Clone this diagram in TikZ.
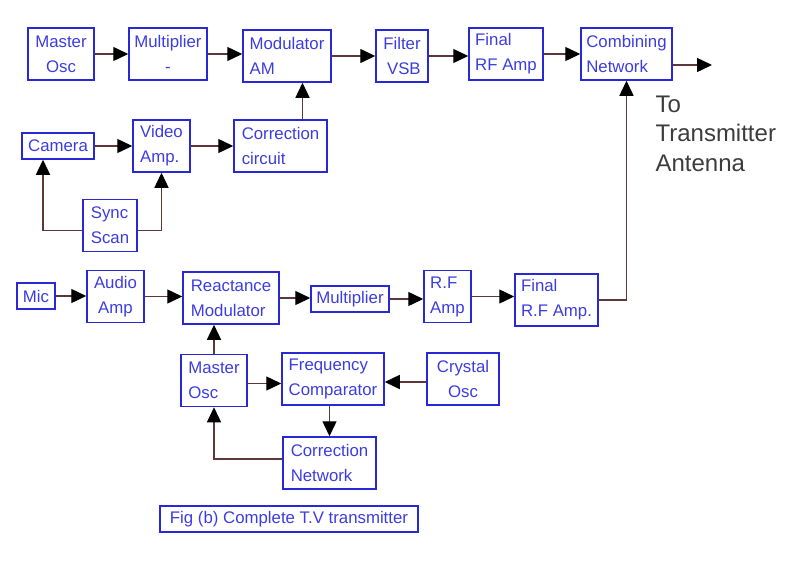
\documentclass[tikz,border=0pt]{standalone}
\usepackage{fontspec}
\setmainfont{Liberation Sans}
\usetikzlibrary{positioning,calc,arrows.meta}
\definecolor{cBox}{RGB}{40,40,215}
\definecolor{cTxt}{RGB}{60,60,225}
\definecolor{cLine}{RGB}{95,55,55}
\definecolor{cNote}{RGB}{60,60,60}

\begin{document}
\begin{tikzpicture}[
  x=1pt, y=-1pt,
  font=\fontsize{16.8}{25}\selectfont,
  blk/.style  = {draw=cBox, line width=1.5pt, text=cTxt, align=left,
                 inner sep=0pt, minimum height=52pt},
  thin/.style = {minimum height=26pt},
  flow/.style = {-{Triangle[length=15pt, width=14pt, color=black]},
                 draw=cLine, line width=1.4pt}
]
\useasboundingbox (0,0) rectangle (802,562);

% ------------------------------------------------------------ video chain --
\node[blk, minimum width=66pt, align=center] (mosc)  at (61,54)    {Master\\Osc};
\node[blk, minimum width=78pt, align=center] (mult)  at (168,54)   {Multiplier\\-};
\node[blk, minimum width=88pt]               (modam) at (287,56)   {Modulator\\AM};
\node[blk, minimum width=52pt, align=right]  (filt)  at (402,56)   {Filter\\VSB};
\node[blk, minimum width=74pt]               (frf)   at (506,54)   {Final\\RF Amp};
\node[blk, minimum width=91pt]               (comb)  at (626.5,54) {Combining\\Network};

\node[blk, thin, minimum width=72pt]         (cam)   at (58,146)   {Camera};
\node[blk, minimum width=57pt]               (vamp)  at (161.5,146) {Video\\Amp.};
\node[blk, minimum width=93pt]               (corr)  at (280.5,146) {Correction\\circuit};
\node[blk, minimum width=54pt]               (sync)  at (110,225.5) {Sync\\Scan};

\node[anchor=north west, text=cNote, align=left,
      font=\fontsize{24}{29.5}\selectfont]   (ant)   at (652,92)   {To\\Transmitter\\Antenna};

% ------------------------------------------------------------ audio chain --
\node[blk, thin, minimum width=38pt]         (mic)   at (36,296)   {Mic};
\node[blk, minimum width=57pt, align=center] (aamp)  at (115.5,296.5) {Audio\\Amp};
\node[blk, minimum width=96pt]               (react) at (231,298)  {Reactance\\Modulator};
\node[blk, thin, minimum width=78pt]         (mult2) at (350,299)  {Multiplier};
\node[blk, minimum width=47pt]               (rfamp) at (447.5,296.5) {R.F\\Amp};
\node[blk, minimum width=83pt]               (frf2)  at (556.5,300) {Final\\R.F Amp.};

\node[blk, minimum width=66pt]               (mosc2) at (214,380.5) {Master\\Osc};
\node[blk, minimum width=102pt]              (fcomp) at (333,379)  {Frequency\\Comparator};
\node[blk, minimum width=72pt, align=center] (xtal)  at (463,379)  {Crystal\\Osc};
\node[blk, minimum width=93pt]               (cnet)  at (329.5,463) {Correction\\Network};

\node[blk, thin, minimum width=258pt]        (cap)   at (289,519)  {Fig (b) Complete T.V transmitter};

% ------------------------------------------------------------------ archi --
\coordinate (out) at (712,65);
\draw[flow] (mosc)  -- (mult);
\draw[flow] (mult)  -- (mult -| modam.west);
\draw[flow] (modam) -- (modam -| filt.west);
\draw[flow] (filt)  -- (filt -| frf.west);
\draw[flow] (frf)   -- (comb);
\draw[flow] (comb.east |- out) -- (out);

\draw[flow] (cam)  -- (vamp);
\draw[flow] (vamp) -- (corr);
\draw[flow] ([xshift=22pt]corr.north) -- ([xshift=22pt]corr.north |- modam.south);
\draw[flow] ([yshift=-5pt]sync.west) -| ([xshift=-15pt]cam.south);
\draw[flow] ([yshift=-5pt]sync.east) -| (vamp.south);

\draw[flow] (mic)   -- (mic -| aamp.west);
\draw[flow] (aamp)  -- (aamp -| react.west);
\draw[flow] (react) -- (react -| mult2.west);
\draw[flow] (mult2) -- (mult2 -| rfamp.west);
\draw[flow] (rfamp) -- (rfamp -| frf2.west);
\draw[flow] (frf2.east) -| (comb.south);

\draw[flow] (mosc2) -- (mosc2.north |- react.south);
\draw[flow] ([yshift=-3pt]mosc2.east) -- ([yshift=-3pt]mosc2.east -| fcomp.west);
\draw[flow] ([yshift=-3pt]xtal.west) -- ([yshift=-3pt]xtal.west -| fcomp.east);
\draw[flow] (fcomp.south -| cnet) -- (cnet.north);
\draw[flow] ([yshift=4pt]cnet.west) -| (mosc2.south);

\end{tikzpicture}
\end{document}
